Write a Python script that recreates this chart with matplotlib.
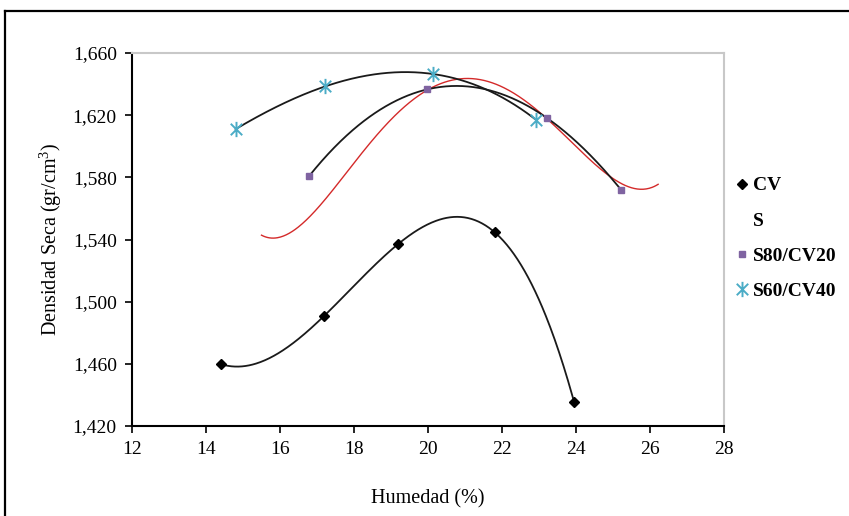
import numpy as np
import matplotlib
matplotlib.use("Agg")
import matplotlib.pyplot as plt
from matplotlib.lines import Line2D
from matplotlib.path import Path
from matplotlib.ticker import FuncFormatter

# ---- data ----
cv_x = [14.4, 17.2, 19.2, 21.8, 23.95]
cv_y = [1459.8, 1491.0, 1537.2, 1544.7, 1435.3]

s_x = [15.5, 16.68, 18.03, 19.83, 21.27, 23.25, 24.6, 25.5, 26.22]
s_y = [1542.9, 1551.3, 1591.1, 1632.9, 1643.7, 1617.9, 1584.6, 1575.0, 1575.0]

s80_x = [16.79, 19.98, 23.22, 25.22]
s80_y = [1580.9, 1636.6, 1618.1, 1571.9]

s60_x = [14.8, 17.22, 20.13, 22.92]
s60_y = [1611.0, 1638.5, 1646.5, 1617.0]

labels = ["CV", "S", "S80/CV20", "S60/CV40"]
xticks = [12, 14, 16, 18, 20, 22, 24, 26, 28]
yticks = [1420, 1460, 1500, 1540, 1580, 1620, 1660]

plt.rcParams['font.family'] = ['Liberation Serif', 'DejaVu Serif']
plt.rcParams['mathtext.fontset'] = 'custom'
plt.rcParams['mathtext.rm'] = 'Liberation Serif'

W, H = 849, 516
fig = plt.figure(figsize=(W / 100, H / 100), dpi=100)
ax = fig.add_axes([132 / W, 1 - 426 / H, (724 - 132) / W, (426 - 53) / H])

# figure border (left and top edges visible)
fig.add_artist(Line2D([5 / W, 5 / W], [0, 1 - 11 / H], color='black', lw=1.6, transform=fig.transFigure))
fig.add_artist(Line2D([5 / W, 1.0], [1 - 11 / H, 1 - 11 / H], color='black', lw=1.6, transform=fig.transFigure))

# asterisk marker: vertical line + X
star = Path([(0, -1), (0, 1), (-0.75, -0.75), (0.75, 0.75), (-0.75, 0.75), (0.75, -0.75)],
            [Path.MOVETO, Path.LINETO, Path.MOVETO, Path.LINETO, Path.MOVETO, Path.LINETO])


def trend(x, y, color, lw, deg=None):
    if deg is None:
        deg = len(x) - 1
    c = np.polyfit(x, y, deg)
    xs = np.linspace(min(x), max(x), 400)
    ax.plot(xs, np.polyval(c, xs), color=color, lw=lw, zorder=2)


trend(cv_x, cv_y, '#1a1a1a', 1.3)
trend(s_x, s_y, '#D42A2A', 1.0, deg=6)
trend(s80_x, s80_y, '#1a1a1a', 1.3)
trend(s60_x, s60_y, '#1a1a1a', 1.3)

ax.plot(cv_x, cv_y, linestyle='none', marker='D', ms=5.5, color='black', zorder=3)
ax.plot(s80_x, s80_y, linestyle='none', marker='s', ms=5, color='#7F63A1', zorder=3)
ax.plot(s60_x, s60_y, linestyle='none', marker=star, ms=11, mew=1.4, color='#4BACC6',
        markerfacecolor='none', zorder=3)

ax.set_xlim(12, 28)
ax.set_ylim(1420, 1660)
ax.set_xticks(xticks)
ax.set_yticks(yticks)
ax.yaxis.set_major_formatter(FuncFormatter(lambda v, p: f"{v:,.0f}"))
ax.tick_params(axis='both', direction='out', length=5, width=1.2, labelsize=14, colors='black')
ax.tick_params(axis='x', pad=6)
ax.tick_params(axis='y', pad=6)
for s in ['left', 'bottom']:
    ax.spines[s].set_color('black')
    ax.spines[s].set_linewidth(1.5)
for s in ['top', 'right']:
    ax.spines[s].set_color('#c8c8c8')
    ax.spines[s].set_linewidth(1.5)

ax.set_xlabel("Humedad (%)", fontsize=14.5, labelpad=22)
ax.set_ylabel("Densidad Seca (gr/cm$^3$)", fontsize=14.5, labelpad=6)

handles = [
    Line2D([], [], linestyle='none', marker='D', ms=5.5, color='black'),
    Line2D([], [], linestyle='none', marker=None),
    Line2D([], [], linestyle='none', marker='s', ms=5, color='#7F63A1'),
    Line2D([], [], linestyle='none', marker=star, ms=11, mew=1.4, color='#4BACC6', markerfacecolor='none'),
]
fig.legend(handles, labels, loc='upper left', bbox_to_anchor=(728 / W, 1 - 169 / H),
           frameon=False, prop={'size': 14, 'weight': 'bold'}, labelspacing=0.9,
           handlelength=0.6, handletextpad=0.3, borderaxespad=0)

fig.savefig("out.png", dpi=100)
